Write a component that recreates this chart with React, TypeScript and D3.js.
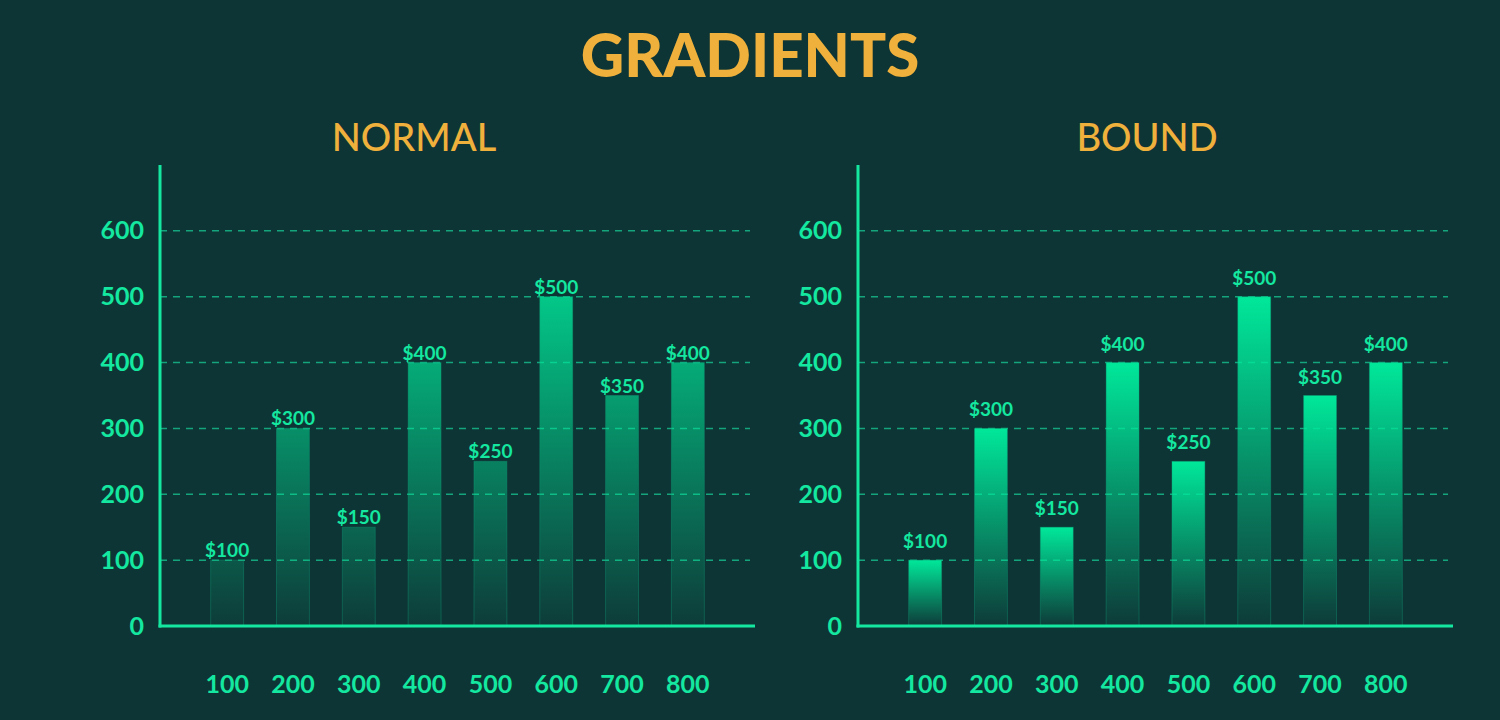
import React, { useEffect, useRef } from 'react';
import { axisBottom, axisLeft, scaleBand, scaleLinear, select } from 'd3';

const categories = ['100', '200', '300', '400', '500', '600', '700', '800'];
const values = [100, 300, 150, 400, 250, 500, 350, 400];
const yTicks = [0, 100, 200, 300, 400, 500, 600];
const panelTitles = ['NORMAL', 'BOUND'];

const bg = '#0e3535';
const green = '#14e8a0';
const gold = '#f0b13c';
const font = 'Lato, "Noto Sans", sans-serif';

export default function App() {
  const svgRef = useRef<SVGSVGElement>(null);

  const width = 1500,
    height = 720;
  const top = 165,
    bottom = 626,
    chartWidth = 595,
    panelOffset = 698,
    left0 = 160;
  // per panel: gradient id, label gap above bar, subtitle centre
  const panelStyle = [
    { gradient: 'grad-normal', labelGap: 3, titleX: 414 },
    { gradient: 'grad-bound', labelGap: 12, titleX: 1147 },
  ];

  useEffect(() => {
    const svg = select(svgRef.current);
    svg.selectAll('*').remove();

    svg.append('rect').attr('width', width).attr('height', height).attr('fill', bg);

    const y = scaleLinear().domain([0, 700]).range([bottom, top]);

    const defs = svg.append('defs');
    const normal = defs
      .append('linearGradient')
      .attr('id', 'grad-normal')
      .attr('gradientUnits', 'userSpaceOnUse')
      .attr('x1', 0)
      .attr('x2', 0)
      .attr('y1', y(620))
      .attr('y2', y(-25));
    normal.append('stop').attr('offset', '0%').attr('stop-color', '#00e89a').attr('stop-opacity', 1);
    normal.append('stop').attr('offset', '100%').attr('stop-color', '#00e89a').attr('stop-opacity', 0);

    const bound = defs
      .append('linearGradient')
      .attr('id', 'grad-bound')
      .attr('x1', 0)
      .attr('x2', 0)
      .attr('y1', 0)
      .attr('y2', 1);
    bound.append('stop').attr('offset', '0%').attr('stop-color', '#00e89a').attr('stop-opacity', 1);
    bound.append('stop').attr('offset', '100%').attr('stop-color', '#00e89a').attr('stop-opacity', 0.03);

    svg
      .append('text')
      .attr('x', width / 2)
      .attr('y', 77)
      .attr('text-anchor', 'middle')
      .attr('fill', gold)
      .style('font-family', font)
      .style('font-weight', 900)
      .style('font-size', '60px')
      .text('GRADIENTS');

    panelTitles.forEach((title, i) => {
      const p = panelStyle[i];
      const x0 = left0 + i * panelOffset;
      const x1 = x0 + chartWidth;
      const g = svg.append('g');

      const x = scaleBand()
        .domain(categories)
        .range([x0, x1])
        .paddingInner(0.5)
        .paddingOuter(0.77);

      g.append('text')
        .attr('x', p.titleX)
        .attr('y', 151)
        .attr('text-anchor', 'middle')
        .attr('fill', gold)
        .style('font-family', font)
        .style('font-weight', 500)
        .style('font-size', '38px')
        .text(title);

      // dashed grid
      g.selectAll('.grid')
        .data(yTicks.filter((t) => t > 0))
        .join('line')
        .attr('class', 'grid')
        .attr('x1', x0)
        .attr('x2', x1 - 5)
        .attr('y1', (d) => y(d))
        .attr('y2', (d) => y(d))
        .attr('stroke', '#14a57c')
        .attr('stroke-width', 1.5)
        .attr('stroke-dasharray', '7,6');

      g.selectAll('.bar')
        .data(values)
        .join('rect')
        .attr('class', 'bar')
        .attr('x', (d, j) => x(categories[j]))
        .attr('y', (d) => y(d))
        .attr('width', x.bandwidth())
        .attr('height', (d) => y(0) - y(d))
        .attr('fill', `url(#${p.gradient})`)
        .attr('stroke', '#0fa27a')
        .attr('stroke-opacity', 0.35)
        .attr('stroke-width', 1);

      g.selectAll('.value')
        .data(values)
        .join('text')
        .attr('class', 'value')
        .attr('x', (d, j) => x(categories[j]) + x.bandwidth() / 2)
        .attr('y', (d) => y(d) - p.labelGap)
        .attr('text-anchor', 'middle')
        .attr('fill', green)
        .style('font-family', font)
        .style('font-weight', 700)
        .style('font-size', '19px')
        .text((d) => `$${d}`);

      const yAxis = g
        .append('g')
        .attr('transform', `translate(${x0},0)`)
        .call(axisLeft(y).tickValues(yTicks).tickSize(0).tickPadding(16));
      yAxis.select('.domain').remove();
      yAxis
        .selectAll('text')
        .attr('fill', green)
        .style('font-family', font)
        .style('font-weight', 700)
        .style('font-size', '25px');

      const xAxis = g
        .append('g')
        .attr('transform', `translate(0,${bottom})`)
        .call(axisBottom(x).tickSize(0).tickPadding(49));
      xAxis.select('.domain').remove();
      xAxis
        .selectAll('text')
        .attr('fill', green)
        .style('font-family', font)
        .style('font-weight', 700)
        .style('font-size', '25px');

      g.append('line')
        .attr('x1', x0)
        .attr('x2', x0)
        .attr('y1', top)
        .attr('y2', bottom + 1.5)
        .attr('stroke', green)
        .attr('stroke-width', 3);
      g.append('line')
        .attr('x1', x0 - 1.5)
        .attr('x2', x1)
        .attr('y1', bottom)
        .attr('y2', bottom)
        .attr('stroke', green)
        .attr('stroke-width', 3);
    });
  }, []);

  return (
    <div style={{ position: 'fixed', left: 0, top: 0, width, height, background: bg }}>
      <svg ref={svgRef} width={width} height={height} style={{ display: 'block' }} />
    </div>
  );
}
